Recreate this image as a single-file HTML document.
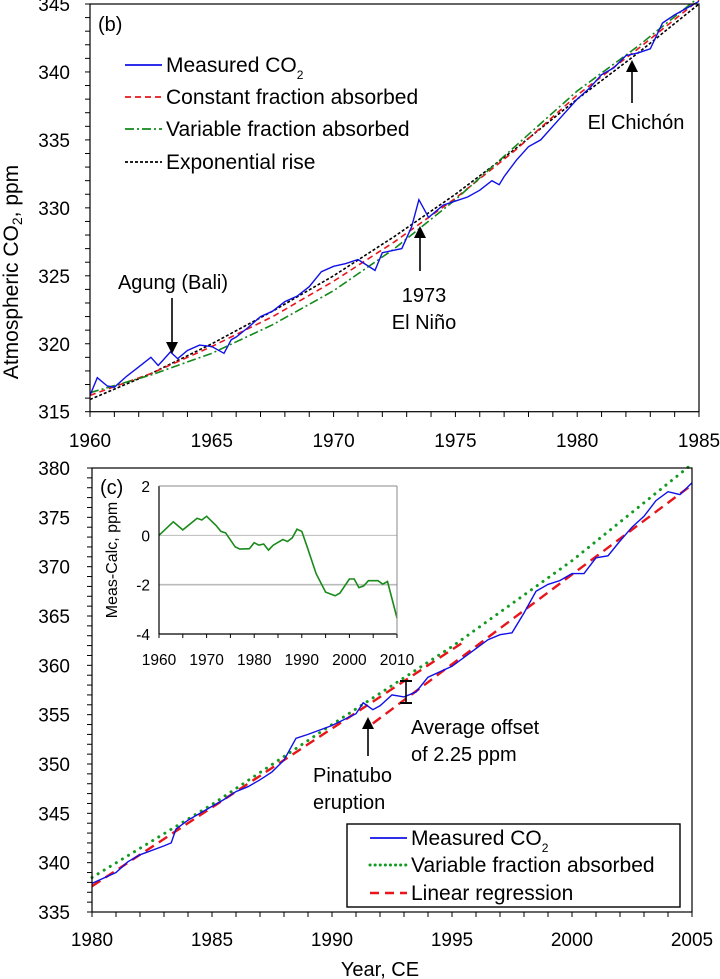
<!DOCTYPE html>
<html><head><meta charset="utf-8"><style>
body{margin:0;background:#fff}
svg{display:block;font-family:"Liberation Sans",Arial,sans-serif}
</style></head><body>
<svg id="c" width="720" height="979" viewBox="0 0 720 979"></svg>
<script>
// ---------- Panel (b) data ----------
const topMeasYears=[1960,1960.3,1960.7,1961,1961.5,1962,1962.5,1962.8,1963,1963.3,1963.6,1964,1964.5,1965,1965.5,1965.8,1966,1966.5,1967,1967.5,1968,1968.5,1969,1969.5,1970,1970.5,1971,1971.7,1972,1972.8,1973.2,1973.5,1973.9,1974.5,1975,1975.5,1976,1976.5,1976.8,1977,1977.5,1978,1978.5,1979,1979.5,1980,1980.5,1981,1981.5,1982,1982.5,1983,1983.5,1984,1984.5,1985];
const topMeasVals=[316.2,317.5,316.9,316.8,317.6,318.3,319.0,318.4,318.8,319.4,318.9,319.5,319.9,319.8,319.3,320.3,320.5,321.2,322.0,322.4,323.1,323.5,324.2,325.3,325.7,325.9,326.2,325.4,326.7,327.0,328.6,330.6,329.3,330.2,330.5,330.8,331.3,332.0,331.7,332.3,333.5,334.5,335.0,336.0,337.0,338.0,338.8,339.8,340.3,341.2,341.4,341.7,343.6,344.2,344.7,345.2];
const topModelYears=[1960,1962.5,1965,1967.5,1970,1972.5,1975,1977.5,1980,1982.5,1985];
const constFrac=[316.2,317.8,319.8,322.0,324.6,327.5,330.7,334.3,338.3,341.7,345.3];
const varFrac=[316.4,317.7,319.3,321.4,323.9,327.0,330.6,334.6,338.6,341.9,345.5];
const expRise=[315.9,317.8,320.0,322.4,325.0,327.9,331.0,334.4,338.0,341.4,345.0];
const topXTicks=[1960,1965,1970,1975,1980,1985];
const topYTicks=[315,320,325,330,335,340,345];
// ---------- Panel (c) data ----------
const botMeasYears=[1980,1981,1981.5,1982,1983,1983.3,1983.5,1984,1985,1985.5,1986,1986.5,1987,1987.5,1988,1988.5,1989,1990,1991,1991.3,1991.7,1992,1992.5,1993,1993.5,1994,1995,1996,1996.5,1997,1997.5,1998,1998.5,1999,1999.5,2000,2000.5,2001,2001.5,2002,2002.5,2003,2003.5,2004,2004.5,2005];
const botMeasVals=[337.9,339.0,340.1,340.8,341.7,342.0,343.4,344.3,345.7,346.4,347.2,347.7,348.4,349.2,350.4,352.6,353.0,353.9,355.1,356.2,355.5,355.9,357.0,356.8,357.3,358.8,359.9,361.7,362.6,363.1,363.3,365.3,367.5,368.2,368.6,369.3,369.3,370.9,371.1,372.6,374.0,375.1,376.7,377.6,377.3,378.5];
const botVarYears=[1980,1985,1990,1995,2000,2005];
const botVarVals=[338.5,345.9,354.0,361.9,370.6,380.4];
const regUpperYears=[1980,1995.5];
const regUpperVals=[337.6,362.4];
const regLowerYears=[1991.7,2005];
const regLowerVals=[354.1,378.3];
const botXTicks=[1980,1985,1990,1995,2000,2005];
const botYTicks=[335,340,345,350,355,360,365,370,375,380];
// ---------- Inset data ----------
const insYears=[1960,1963,1965,1968,1969,1970,1972,1973,1974,1976,1977,1979,1980,1981,1982,1983,1984,1986,1987,1988,1989,1990,1991,1993,1995,1997,1998,2000,2001,2002,2003,2004,2006,2007,2008,2010];
const insVals=[0,0.55,0.22,0.69,0.62,0.77,0.4,0.16,0.1,-0.47,-0.56,-0.54,-0.3,-0.4,-0.35,-0.6,-0.4,-0.17,-0.25,-0.1,0.25,0.16,-0.4,-1.55,-2.3,-2.45,-2.34,-1.77,-1.77,-2.12,-2.05,-1.84,-1.84,-1.98,-1.87,-3.35];
const insXTicks=[1960,1970,1980,1990,2000,2010];
const insYTicks=[2,0,-2,-4];

const svg=document.getElementById('c');
const NS='http://www.w3.org/2000/svg';
function mk(tag,attrs,parent){const e=document.createElementNS(NS,tag);for(const k in attrs)e.setAttribute(k,attrs[k]);(parent||svg).appendChild(e);return e;}
function lin(d0,d1,r0,r1){return v=>r0+(v-d0)*(r1-r0)/(d1-d0);}
function pts(xs,ys,fx,fy){return xs.map((x,i)=>fx(x).toFixed(1)+','+fy(ys[i]).toFixed(1)).join(' ');}
const TF=19, AF=20, LF=21;

// ===== Panel b =====
const bx=lin(1960,1985,90,699), by=lin(315,345,411.7,4);
let g=mk('g',{});


for(let yr=1960;yr<=1985;yr++){mk('line',{x1:bx(yr),x2:bx(yr),y1:411.7,y2:417,stroke:'#000','stroke-width':1},g);}
for(let p=315;p<=345;p++){mk('line',{x1:85,x2:90,y1:by(p),y2:by(p),stroke:'#000','stroke-width':1},g);}
topXTicks.forEach(v=>{let t=mk('text',{x:bx(v),y:447,'text-anchor':'middle','font-size':TF},g);t.textContent=v;
});
topYTicks.forEach(v=>{let t=mk('text',{x:70,y:by(v)+7,'text-anchor':'end','font-size':TF},g);t.textContent=v;
});
let l;
l=mk('polyline',{points:pts(topModelYears,expRise,bx,by),fill:'none',stroke:'#000','stroke-width':1.6,'stroke-dasharray':'3,2'},g);

l=mk('polyline',{points:pts(topModelYears,constFrac,bx,by),fill:'none',stroke:'#e8151b','stroke-width':1.6,'stroke-dasharray':'6,4'},g);

l=mk('polyline',{points:pts(topModelYears,varFrac,bx,by),fill:'none',stroke:'#12891a','stroke-width':1.6,'stroke-dasharray':'9,3,2,3'},g);

l=mk('polyline',{points:pts(topMeasYears,topMeasVals,bx,by),fill:'none',stroke:'#1010e8','stroke-width':1.4},g);

mk('rect',{x:90,y:4,width:609,height:407.7,fill:'none',stroke:'#000','stroke-width':1.2},g);
let t=mk('text',{x:98,y:31,'font-size':AF},g);t.textContent='(b)';

t=mk('text',{x:0,y:0,'font-size':21,'text-anchor':'middle',transform:'translate(18,272) rotate(-90)'},g);
t.innerHTML='Atmospheric CO<tspan font-size="14" dy="4">2</tspan><tspan dy="-4">, ppm</tspan>';

// legend b
const legB=[['Measured CO','#1010e8','',72],['Constant fraction absorbed','#e8151b','6,4',104],['Variable fraction absorbed','#12891a','9,3,2,3',136],['Exponential rise','#000','3,2',169]];
legB.forEach((e,i)=>{let lg=mk('g',{},g);
mk('line',{x1:125,x2:162,y1:e[3]-7,y2:e[3]-7,stroke:e[1],'stroke-width':1.8,'stroke-dasharray':e[2]},lg);
let tt=mk('text',{x:166,y:e[3],'font-size':LF},lg);tt.textContent=e[0];
if(i==0){let s=mk('tspan',{'font-size':12,dy:7},tt);s.textContent='2';}});
function arrow(x,y1,y2,parent,name){let a=mk('g',{},parent);
mk('line',{x1:x,x2:x,y1:y1,y2:y2+(y2>y1?-10:10),stroke:'#000','stroke-width':1.6},a);
const d=y2>y1?-1:1;mk('polygon',{points:`${x},${y2} ${x-6},${y2+d*12} ${x+6},${y2+d*12}`,fill:'#000'},a);}
function txt(x,y,s,parent,name,anchor){let tt=mk('text',{x:x,y:y,'font-size':AF,'text-anchor':anchor||'middle'},parent);tt.textContent=s;
return tt;}
txt(173,289,'Agung (Bali)',g,'agung-label');arrow(172,298,354,g,'agung-arrow');
txt(424,302,'1973',g,'el-nino-year-label');txt(424,329,'El Niño',g,'el-nino-label');arrow(420,271,226,g,'el-nino-arrow');
txt(636,129,'El Chichón',g,'el-chichon-label');arrow(632,103,60,g,'el-chichon-arrow');

// ===== Panel c =====
const cx=lin(1980,2005,92,692), cy=lin(335,380,912,468);
g=mk('g',{});


for(let yr=1980;yr<=2005;yr++){mk('line',{x1:cx(yr),x2:cx(yr),y1:912,y2:917,stroke:'#000','stroke-width':1},g);}
for(let p=335;p<=380;p++){mk('line',{x1:87,x2:92,y1:cy(p),y2:cy(p),stroke:'#000','stroke-width':1},g);}
botXTicks.forEach(v=>{let t=mk('text',{x:cx(v),y:946,'text-anchor':'middle','font-size':TF},g);t.textContent=v;
});
botYTicks.forEach(v=>{let t=mk('text',{x:70,y:cy(v)+7,'text-anchor':'end','font-size':TF},g);t.textContent=v;
});
l=mk('polyline',{points:pts(botVarYears,botVarVals,cx,cy),fill:'none',stroke:'#139a22','stroke-width':3,'stroke-dasharray':'0.1,7','stroke-linecap':'round'},g);

l=mk('polyline',{points:pts(regUpperYears,regUpperVals,cx,cy),fill:'none',stroke:'#e8151b','stroke-width':2.4,'stroke-dasharray':'10,6'},g);

l=mk('polyline',{points:pts(regLowerYears,regLowerVals,cx,cy),fill:'none',stroke:'#e8151b','stroke-width':2.4,'stroke-dasharray':'10,6'},g);

l=mk('polyline',{points:pts(botMeasYears,botMeasVals,cx,cy),fill:'none',stroke:'#1010e8','stroke-width':1.4},g);

mk('rect',{x:92,y:468,width:600,height:444,fill:'none',stroke:'#000','stroke-width':1.2},g);
t=mk('text',{x:380,y:976,'font-size':20,'text-anchor':'middle'},g);t.textContent='Year, CE';

txt(100,494,'(c)',g,'panel-c-label','start');
// annotations
txt(313,782,'Pinatubo',g,'pinatubo-label','start');txt(313,809,'eruption',g,'pinatubo-label-2','start');
arrow(368,756,717,g,'pinatubo-arrow');
let br=mk('g',{},g);
mk('line',{x1:406,x2:406,y1:681,y2:703,stroke:'#000','stroke-width':1.6},br);
mk('line',{x1:400,x2:412,y1:681,y2:681,stroke:'#000','stroke-width':2},br);
mk('line',{x1:400,x2:412,y1:703,y2:703,stroke:'#000','stroke-width':2},br);
txt(411,734,'Average offset',g,'offset-label','start');txt(411,761,'of 2.25 ppm',g,'offset-label-2','start');
// legend c
let lc=mk('g',{},g);
mk('rect',{x:347,y:824,width:333,height:83,fill:'#fff',stroke:'#000','stroke-width':1.4},lc);
const legC=[['Measured CO','#1010e8','',845,1.8,'butt'],['Variable fraction absorbed','#139a22','0.1,5',872,3,'round'],['Linear regression','#e8151b','9,6',900,2.6,'butt']];
legC.forEach((e,i)=>{let lg=mk('g',{},lc);
mk('line',{x1:370,x2:407,y1:e[3]-7,y2:e[3]-7,stroke:e[1],'stroke-width':e[4],'stroke-dasharray':e[2],'stroke-linecap':e[5]},lg);
let tt=mk('text',{x:411,y:e[3],'font-size':LF},lg);tt.textContent=e[0];
if(i==0){let s=mk('tspan',{'font-size':12,dy:7},tt);s.textContent='2';}});

// ===== Inset =====
const ix=lin(1960,2010,159,397), iy=lin(-4,2,634,486);
g=mk('g',{});


mk('rect',{x:159,y:486,width:238,height:148,fill:'#fff',stroke:'none'},g);
[0,-2].forEach(v=>{let gl=mk('line',{x1:159,x2:397,y1:iy(v),y2:iy(v),stroke:'#bbb','stroke-width':v==0?1:1.6},g);
});
for(let yr=1960;yr<=2010;yr+=5){mk('line',{x1:ix(yr),x2:ix(yr),y1:634,y2:638,stroke:'#000','stroke-width':1},g);}
insXTicks.forEach(v=>{let t=mk('text',{x:ix(v),y:665,'text-anchor':'middle','font-size':15.5},g);t.textContent=v;
});
insYTicks.forEach(v=>{let t=mk('text',{x:150,y:iy(v)+6,'text-anchor':'end','font-size':15.5},g);t.textContent=v;
});
l=mk('polyline',{points:pts(insYears,insVals,ix,iy),fill:'none',stroke:'#1a8a1a','stroke-width':1.6},g);

mk('line',{x1:159,x2:159,y1:486,y2:634,stroke:'#000','stroke-width':1.2},g);
mk('line',{x1:159,x2:397,y1:634,y2:634,stroke:'#000','stroke-width':1.2},g);
mk('line',{x1:159,x2:397,y1:486,y2:486,stroke:'#888','stroke-width':1},g);
mk('line',{x1:397,x2:397,y1:486,y2:634,stroke:'#888','stroke-width':1},g);
t=mk('text',{x:0,y:0,'font-size':16,'text-anchor':'middle',transform:'translate(117,560) rotate(-90)'},g);t.textContent='Meas-Calc, ppm';

</script>
</body></html>
